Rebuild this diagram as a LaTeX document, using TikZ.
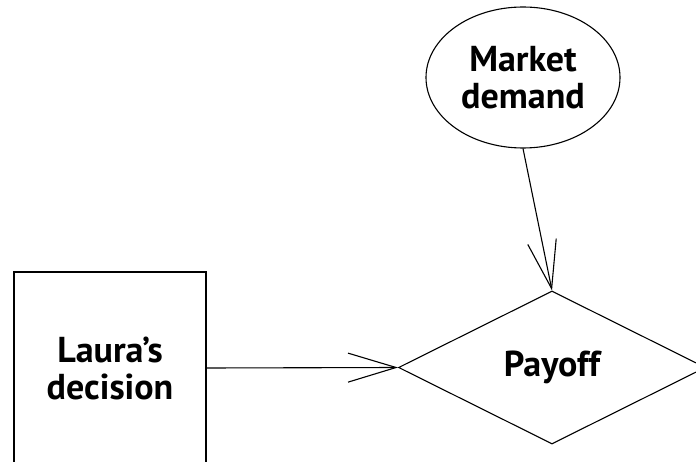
\documentclass[tikz,border=0pt]{standalone}
\usepackage{fontspec}
\setmainfont{PT Sans}
\usetikzlibrary{shapes.geometric,arrows.meta}

\tikzset{
  every node/.style={font=\bfseries\fontsize{36}{37}\selectfont, align=center, inner sep=0pt},
  outline/.style={draw, line width=1.1pt},
  link/.style={line width=1.1pt, -{Straight Barb[length=48pt,width=29pt,line width=1.1pt]}},
}

\begin{document}
\begin{tikzpicture}[x=1pt, y=-1pt]
  \useasboundingbox (0,0) rectangle (696,462);
  \clip (0,0) rectangle (696,462);

  % chance node
  \node[outline, ellipse, minimum width=194pt, minimum height=141pt] (mkt) at (523,77.5) {Market\\demand};

  % decision node (its lower edge falls below the frame)
  \node[outline, rectangle, minimum width=192pt, minimum height=192pt] (dec) at (110,368) {Laura’s\\decision};

  % value node
  \node[outline, diamond, aspect=2, minimum width=307pt, minimum height=153pt] (pay) at (552,367.5) {Payoff};

  \draw[link] (dec.east) -- (pay.west);
  \draw[link] (mkt.south) -- (pay.north);
\end{tikzpicture}
\end{document}
